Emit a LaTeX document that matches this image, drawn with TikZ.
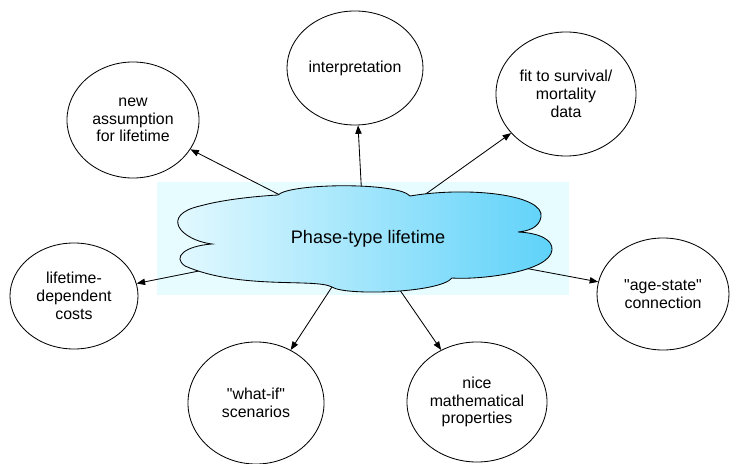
\documentclass[tikz,border=0pt]{standalone}
\usepackage{fontspec}
\setmainfont{Liberation Sans}
\usetikzlibrary{arrows.meta,shapes.geometric}
\definecolor{sfondo}{RGB}{230,252,255}
\definecolor{nuvolachiara}{RGB}{232,250,255}
\definecolor{nuvolascura}{RGB}{95,210,249}

\begin{document}
\begin{tikzpicture}[x=0.025cm, y=-0.025cm,
  bolla/.style={ellipse, draw, line width=0.6pt, inner sep=0pt, align=center,
    font=\fontsize{11.3}{12.6}\selectfont},
  freccia/.style={-{Triangle[length=6pt,width=4.5pt]}, line width=0.6pt}]
\useasboundingbox (0,0) rectangle (730,464);
% Sfondo azzurro dietro la nuvola
\fill[sfondo] (157,182) rectangle (569,295);
% Nodo centrale (solo per le frecce)
\node[ellipse, minimum width=8cm, minimum height=2cm] (pt) at (364,238) {};
% Bolle e frecce
\foreach \n/\x/\y/\bw/\bh/\lab in {
  nuova/133/120/3.3/2.9/{new\\assumption\\for lifetime},
  interp/355/68/3.4/2.85/{interpretation},
  fit/566/94/3.5/3.1/{fit to survival/\\mortality\\data},
  costi/74/296/3.2/2.65/{lifetime-\\dependent\\costs},
  eta/663/294/3.3/2.8/{\textquotedbl age-state\textquotedbl\\connection},
  whatif/256/403/3.4/3.05/{\textquotedbl what-if\textquotedbl\\scenarios},
  prop/477/402/3.5/3.0/{nice\\mathematical\\properties}}{
  \node[bolla, minimum width=\bw cm, minimum height=\bh cm] (\n) at (\x,\y) {\lab};
  \draw[freccia] (pt) -- (\n);
}
% Nuvola
\shade[draw, line width=0.6pt, left color=nuvolachiara, right color=nuvolascura]
  (278,195) .. controls (290,183) and (398,182) .. (410,196)
  .. controls (470,186) and (545,195) .. (541,217)
  .. controls (539,228) and (528,231) .. (518,232)
  .. controls (540,233) and (553,240) .. (552,250)
  .. controls (550,272) and (480,280) .. (452,278)
  .. controls (440,293) and (345,296) .. (332,287)
  .. controls (315,278) and (240,290) .. (185,266)
  .. controls (172,257) and (185,246) .. (212,244)
  .. controls (180,240) and (160,215) .. (200,206)
  .. controls (225,199) and (260,196) .. (278,195) -- cycle;
\node[font=\fontsize{12.9}{15}\selectfont] (titolo) at (368,239) {Phase-type lifetime};
\end{tikzpicture}
\end{document}
